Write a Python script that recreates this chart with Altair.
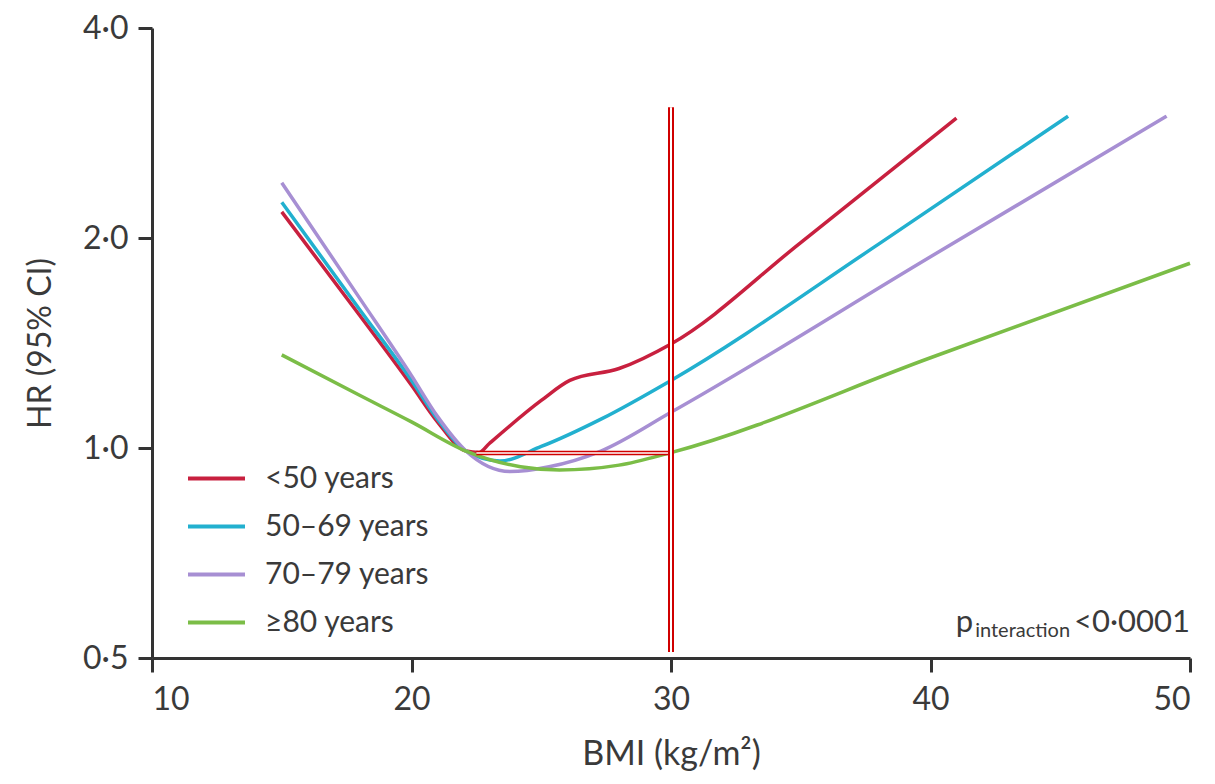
import altair as alt
import pandas as pd

# ---- data ----
groups = ["<50 years", "50–69 years", "70–79 years", "≥80 years"]
colors = ["#c8203f", "#22b0cf", "#a78fd3", "#7bbd47"]

bmi_lt50 = [15, 18, 20, 21, 22.1, 22.6, 23.0, 25.0, 26.1, 28.0, 30.0, 35.0, 41.0]
hr_lt50 = [2.18, 1.55, 1.23, 1.09, 0.99, 0.985, 1.015, 1.17, 1.25, 1.30, 1.41, 1.97, 2.97]

bmi_50_69 = [15, 18, 20, 21, 22.1, 23.4, 25.0, 27.3, 30.0, 38.0, 45.3]
hr_50_69 = [2.25, 1.58, 1.25, 1.10, 0.99, 0.958, 1.005, 1.10, 1.25, 1.96, 2.99]

bmi_70_79 = [15, 18, 20, 21, 22.1, 23.8, 25.3, 27.3, 30.0, 40.0, 49.1]
hr_70_79 = [2.40, 1.64, 1.27, 1.11, 0.99, 0.925, 0.94, 0.99, 1.125, 1.88, 2.99]

bmi_80 = [15, 18, 20, 22.1, 24.2, 25.7, 28.0, 30.0, 40.0, 50.0]
hr_80 = [1.36, 1.19, 1.09, 0.99, 0.94, 0.93, 0.945, 0.985, 1.347, 1.84]

x_ticks = [10, 20, 30, 40, 50]
y_ticks = [0.5, 1.0, 2.0, 4.0]

# reference (crosshair) annotation
vline_x = [30]
vline_y = [0.51]
vline_y2 = [3.08]
hline_y = [0.984]
hline_x = [22.5]
hline_x2 = [30]

# p-value annotation
p_label = ["p"]
p_sub = ["interaction"]
p_value = ["<0·0001"]

rows = []
for g, xs, ys in zip(groups,
                     [bmi_lt50, bmi_50_69, bmi_70_79, bmi_80],
                     [hr_lt50, hr_50_69, hr_70_79, hr_80]):
    for i, (a, b) in enumerate(zip(xs, ys)):
        rows.append({"group": g, "bmi": a, "hr": b, "order": i})
df = pd.DataFrame(rows)

FONT = "Lato"
TXT = "#3a3a3a"

xscale = alt.Scale(domain=[10, 50], nice=False, zero=False)
yscale = alt.Scale(type="log", domain=[0.5, 4.0], nice=False)

lines = alt.Chart(df).mark_line(strokeWidth=3.5, interpolate="monotone").encode(
    x=alt.X("bmi:Q", scale=xscale,
            axis=alt.Axis(title="BMI (kg/m²)", values=x_ticks, format="d")),
    y=alt.Y("hr:Q", scale=yscale,
            axis=alt.Axis(title="HR (95% CI)", values=y_ticks,
                          labelExpr="replace(format(datum.value, '.1f'), '.', '·')")),
    color=alt.Color("group:N", scale=alt.Scale(domain=groups, range=colors),
                    legend=alt.Legend(title=None, orient="none", legendX=34, legendY=420,
                                      symbolType="stroke", symbolSize=3249,
                                      symbolStrokeWidth=4, labelFontSize=30,
                                      labelFont=FONT, labelColor=TXT, labelLimit=400,
                                      rowPadding=2, labelOffset=18)),
    order="order:Q",
)

vdf = pd.DataFrame({"x": vline_x, "y": vline_y, "y2": vline_y2})
hdf = pd.DataFrame({"x": hline_x, "x2": hline_x2, "y": hline_y})

vred = alt.Chart(vdf).mark_rule(color="#d00000", strokeWidth=6).encode(
    x="x:Q", y="y:Q", y2="y2:Q")
vwhite = alt.Chart(vdf).mark_rule(color="white", strokeWidth=2).encode(
    x="x:Q", y="y:Q", y2="y2:Q")
hred = alt.Chart(hdf).mark_rule(color="#d00000", strokeWidth=4.5).encode(
    x="x:Q", x2="x2:Q", y="y:Q")
hwhite = alt.Chart(hdf).mark_rule(color="white", strokeWidth=1.5).encode(
    x="x:Q", x2="x2:Q", y="y:Q")

pdf = pd.DataFrame({"x": [41.64], "y": [0.545], "t": p_label})
sdf = pd.DataFrame({"x": [41.72], "y": [0.536], "t": p_sub})
vdf2 = pd.DataFrame({"x": [50], "y": [0.545], "t": p_value})

p_txt = alt.Chart(pdf).mark_text(align="right", baseline="alphabetic", fontSize=31,
                                 font=FONT, color=TXT).encode(x="x:Q", y="y:Q", text="t:N")
s_txt = alt.Chart(sdf).mark_text(align="left", baseline="alphabetic", fontSize=20,
                                 font=FONT, color=TXT).encode(x="x:Q", y="y:Q", text="t:N")
v_txt = alt.Chart(vdf2).mark_text(align="right", baseline="alphabetic", fontSize=31,
                                  font=FONT, color=TXT).encode(x="x:Q", y="y:Q", text="t:N")

chart = alt.layer(lines, hred, hwhite, vred, vwhite, p_txt, s_txt, v_txt).properties(
    width=1038, height=630,
    autosize=alt.AutoSizeParams(type="none"),
    padding={"left": 144, "top": 20, "right": 17, "bottom": 118},
    background="white",
).configure_view(stroke=None).configure_axis(
    domainColor="#333333", domainWidth=3, tickColor="#333333", tickWidth=3,
    tickSize=14, labelFont=FONT, labelFontSize=32, labelColor=TXT,
    titleFont=FONT, titleColor=TXT, titleFontWeight="normal",
    grid=False,
).configure_axisY(titlePadding=25, titleFontSize=32, labelPadding=10
).configure_axisX(titlePadding=22, titleFontSize=34, labelPadding=12)

chart.save("out.html", embed_options={"renderer": "svg", "actions": False})
